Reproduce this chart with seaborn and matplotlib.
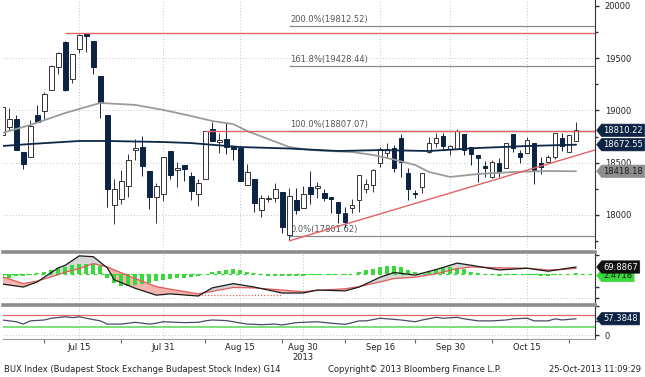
import numpy as np
import pandas as pd
import seaborn as sns
import matplotlib.pyplot as plt
from matplotlib.path import Path
from matplotlib.transforms import blended_transform_factory

sns.set_theme(style="white")
plt.rcParams['font.family'] = ['DejaVu Sans']

# ----------------------
# Data (one candle per trading day, day -1 is cut by the left edge)
# ----------------------
day = list(range(-1, 82))
open_ = [18765, 18842, 18918, 18602, 18555, 18956, 18995, 19196, 19416, 19655, 19301, 19588, 19722,
         19665, 19330, 18956, 18095, 18153, 18277, 18621, 18650, 18421, 18172, 18200, 18612, 18430,
         18478, 18373, 18200, 18344, 18822, 18698, 18727, 18660, 18641, 18287, 18344, 18047, 18153,
         18162, 18220, 17808, 18143, 18066, 18267, 18262, 18210, 18172, 18124, 18019, 18066, 18143,
         18248, 18287, 18497, 18593, 18641, 18736, 18401, 18205, 18267, 18602, 18688, 18755, 18631,
         18631, 18775, 18650, 18574, 18468, 18363, 18497, 18449, 18775, 18593, 18593, 18688, 18497,
         18507, 18555, 18736, 18602, 18708]
high = [19033, 19023, 18956, 18602, 18909, 19052, 19177, 19435, 19560, 19665, 19540, 19730, 19742,
        19665, 19330, 18956, 18344, 18430, 18583, 18727, 18755, 18421, 18306, 18555, 18612, 18507,
        18478, 18411, 18344, 18807, 18889, 18784, 18880, 18660, 18641, 18488, 18344, 18191, 18191,
        18306, 18220, 18258, 18258, 18277, 18421, 18315, 18248, 18172, 18124, 18076, 18153, 18382,
        18344, 18440, 18650, 18688, 18669, 18775, 18449, 18239, 18401, 18746, 18784, 18784, 18669,
        18822, 18775, 18650, 18574, 18516, 18526, 18545, 18688, 18775, 18621, 18746, 18688, 18555,
        18574, 18784, 18784, 18765, 18889]
low = [18765, 18813, 18621, 18440, 18555, 18889, 18918, 19196, 19349, 19190, 19263, 19550, 19559,
       19349, 18928, 18076, 17913, 18105, 18172, 18526, 18373, 18057, 17923, 18133, 18344, 18267,
       18325, 18143, 18086, 18344, 18708, 18593, 18583, 18526, 18325, 18287, 18028, 17980, 18124,
       18124, 17827, 17765, 18009, 18066, 18105, 18162, 18133, 18019, 17923, 17885, 18019, 18028,
       18210, 18220, 18459, 18545, 18411, 18363, 18143, 18162, 18210, 18593, 18650, 18621, 18574,
       18631, 18574, 18478, 18315, 18363, 18354, 18363, 18449, 18602, 18497, 18593, 18296, 18392,
       18497, 18536, 18612, 18602, 18708]
close = [19033, 18918, 18621, 18488, 18851, 18889, 19157, 19425, 19550, 19196, 19540, 19722, 19715,
         19416, 19071, 18248, 18248, 18325, 18526, 18641, 18468, 18172, 18277, 18555, 18382, 18449,
         18440, 18229, 18306, 18803, 18708, 18717, 18650, 18631, 18325, 18411, 18114, 18162, 18162,
         18248, 17885, 18181, 18047, 18200, 18200, 18272, 18162, 18153, 18019, 17932, 18095, 18382,
         18296, 18430, 18631, 18631, 18449, 18507, 18248, 18200, 18401, 18688, 18736, 18660, 18660,
         18803, 18621, 18583, 18545, 18449, 18507, 18411, 18688, 18641, 18555, 18717, 18430, 18459,
         18555, 18784, 18660, 18765, 18810.22]

# moving averages
dark_ma_day = [-1, 3, 10, 14, 22, 26, 33, 40, 47, 53, 60, 67, 74, 81]
dark_ma = [18660, 18679, 18708, 18708, 18698, 18688, 18650, 18636, 18612, 18621, 18612, 18641, 18660, 18672.55]
gray_ma_day = [-1, 3, 8, 13, 18, 22, 26, 29, 32, 34, 37, 40, 43, 49, 52, 55, 58, 60, 63, 67, 72, 77, 81]
gray_ma = [18785, 18861, 18976, 19072, 19053, 19005, 18947, 18899, 18870, 18803, 18727, 18650, 18621,
           18602, 18574, 18530, 18478, 18411, 18364, 18392, 18411, 18421, 18418.18]

# fibonacci levels + trend line (annotation anchors)
fib_pct = ["200.0%", "161.8%", "100.0%", "0.0%"]
fib_val = [19812.52, 19428.44, 18807.07, 17801.62]
fib_day = 40
high_line = 19742
high_day = 8
resist_line = 18807.07
resist_day = 28
trend_day = [40, 83.7]
trend_val = [17752, 18622]

# middle panel
macd_day = [-1, 2, 4, 7, 8, 10, 12, 14, 15, 18, 21, 23, 27, 29, 32, 35, 39, 42, 44, 48, 50, 53, 55, 58,
            61, 64, 66, 70, 74, 77, 79, 81]
macd_line = [30, 23, 35, 68, 74, 96, 94, 68, 40, 20, 4, 7, 2, 21, 31, 23, 9, 9, 16, 14, 23, 46, 57, 51,
             64, 79, 74, 63, 67, 60, 65, 69.8867]
signal_line = [47, 31, 37, 52, 58, 66, 78, 70, 63, 43, 24, 18, 7, 13, 22, 21, 16, 12, 15, 19, 24, 35, 43,
               46, 54, 66, 70, 68, 67, 63, 64, 67]
hist = [-10, -9, -5, -3, -2, 2, 6, 10, 15, 18, 21, 23, 25, 25, 20, -10, -21, -27, -27, -25, -23, -20,
        -17, -14, -12, -10, -9, -6, -3, 0, 5, 8, 11, 12, 11, 6, 2, -2, -4, -4, -4, -4, -4, -3, -2, -1,
        0, -1, 0, -1, 0, 6, 10, 12, 18, 20, 20, 18, 10, 5, 2, 6, 12, 14, 16, 14, 12, 6, 2, 0, -1, -5,
        -2, -1, 0, -1, -2, -5, -5, -2, 0, 1, 2]
hist_base = 53

# bottom panel
rsi_day = [-1, 1, 2, 3, 5, 6, 8, 9, 10, 11, 13, 14, 16, 18, 20, 21, 22, 24, 25, 27, 28, 29, 31, 32, 34,
           36, 38, 39, 41, 42, 44, 46, 48, 50, 51, 53, 54, 56, 58, 59, 61, 62, 64, 65, 67, 69, 71, 72,
           74, 75, 77, 78, 79, 81]
rsi = [53, 47, 39, 50, 53, 59, 64, 61, 64, 59, 50, 39, 39, 45, 39, 42, 47, 45, 44, 45, 50, 53, 51, 47,
       39, 37, 39, 36, 44, 45, 47, 42, 38, 50, 50, 59, 57, 53, 47, 53, 62, 59, 62, 57, 50, 50, 53, 57,
       59, 50, 50, 57, 53, 57.3848]

date_ticks = [10, 22, 33, 42, 53, 63, 74]
date_labels = ["Jul 15", "Jul 31", "Aug 15", "Aug 30\n2013", "Sep 16", "Sep 30", "Oct 15"]
minor_ticks = [5, 16, 28, 39, 48, 58, 69, 80]

FS = 6.0
NAVY = "#0d2344"
RED = "#e06464"
GRID = dict(color="#c4c4c4", lw=0.7, ls=(0, (1, 2.2)))
XLIM = (-0.9, 83.7)


def tag_shape(x0, y0, width, height, mutation_size):
    pad = 0.2 * mutation_size
    x0, y0 = x0 - pad, y0 - pad
    x1, y1 = x0 + width + 2 * pad, y0 + height + 2 * pad
    ym = (y0 + y1) / 2
    tip = (y1 - y0) * 0.4
    return Path([(x0 - tip, ym), (x0, y1), (x1, y1), (x1, y0), (x0, y0), (x0 - tip, ym)], closed=True)


def tag(ax, y, text, fc, tc):
    ax.text(1.014, y, text, transform=blended_transform_factory(ax.transAxes, ax.transData),
            ha="left", va="center", fontsize=FS, color=tc, clip_on=False, zorder=10,
            bbox=dict(boxstyle=tag_shape, fc=fc, ec=fc, lw=0.5))


def style_axis(ax):
    ax.set_xlim(*XLIM)
    ax.set_facecolor("white")
    for s in ["left", "bottom", "top"]:
        ax.spines[s].set_visible(False)
    ax.spines["right"].set_color("#333333")
    ax.spines["right"].set_linewidth(0.8)
    ax.yaxis.tick_right()
    ax.tick_params(axis="y", which="both", direction="out", color="#333333", width=1.0,
                   labelsize=FS, labelcolor="#222222", pad=4)
    ax.tick_params(axis="y", which="major", length=3)
    ax.tick_params(axis="y", which="minor", length=2)
    ax.set_xlabel("")
    ax.set_ylabel("")


fig = plt.figure(figsize=(6.45, 3.77), dpi=100)
W = 592 / 645
L = 3 / 645
ax = fig.add_axes([L, 1 - 248 / 377, W, 248 / 377])
ax2 = fig.add_axes([L, 1 - 302 / 377, W, 50 / 377])
ax3 = fig.add_axes([L, 1 - 339 / 377, W, 34.5 / 377])

# ----------------------
# Price panel
# ----------------------
df = pd.DataFrame({"day": day, "open": open_, "high": high, "low": low, "close": close})
df["up"] = df["close"] >= df["open"]
df["bottom"] = df[["open", "close"]].min(axis=1)
df["size"] = (df["close"] - df["open"]).abs().clip(lower=12)

for y in [18000, 18500, 19000, 19500]:
    ax.axhline(y, zorder=0, **GRID)
for d in date_ticks:
    if d != 42:
        ax.axvline(d, zorder=0, **GRID)

up = df[df["up"]]
dn = df[~df["up"]]
ax.vlines(up["day"], up["low"], up["high"], color="#333333", lw=0.7, zorder=3)
ax.vlines(dn["day"], dn["low"], dn["high"], color=NAVY, lw=0.7, zorder=3)
ax.bar(up["day"], up["size"], bottom=up["bottom"], width=0.66, color="white",
       edgecolor="#333333", lw=0.7, zorder=4)
ax.bar(dn["day"], dn["size"], bottom=dn["bottom"], width=0.66, color=NAVY,
       edgecolor=NAVY, lw=0.7, zorder=4)

sns.lineplot(x=gray_ma_day, y=gray_ma, ax=ax, color="#9b9b9b", lw=1.3, zorder=5)
sns.lineplot(x=dark_ma_day, y=dark_ma, ax=ax, color="#0f2747", lw=1.3, zorder=5)

for lab, val in zip(fib_pct, fib_val):
    ax.hlines(val, fib_day, XLIM[1], color="#8a8a8a", lw=0.9, zorder=2)
    ax.text(fib_day + 0.15, val + 18, f"{lab}({val:.2f})", fontsize=FS, color="#555555",
            ha="left", va="bottom", zorder=2)
ax.hlines(high_line, high_day, XLIM[1], color=RED, lw=1.0, zorder=6)
ax.hlines(resist_line, resist_day, XLIM[1], color=RED, lw=1.0, zorder=6)
ax.plot(trend_day, trend_val, color=RED, lw=1.0, zorder=6)

ax.set_ylim(17684, 20057)
ax.set_yticks([18000, 18500, 19000, 19500, 20000])
ax.set_yticks(np.arange(17750, 20001, 250), minor=True)
ax.set_xticks([])
style_axis(ax)

tag(ax, 18418.18, "18418.18", "#8e8e8e", "#1a1a1a")
tag(ax, 18672.55, "18672.55", NAVY, "white")
tag(ax, 18810.22, "18810.22", NAVY, "white")

# ----------------------
# Middle indicator panel
# ----------------------
macd = np.array(macd_line)
sig = np.array(signal_line)
for d in date_ticks:
    ax2.axvline(d, zorder=0, **GRID)
ax2.axhline(-2, zorder=0, **GRID)
ax2.fill_between(macd_day, macd, sig, where=macd >= sig, interpolate=True, color="#d6d6d6", lw=0, zorder=1)
ax2.fill_between(macd_day, macd, sig, where=macd < sig, interpolate=True, color="#f5b4ae", lw=0, zorder=1)
ax2.bar(day, hist, bottom=hist_base, width=0.6, color="#3bd83b", lw=0, zorder=2)
ax2.axhline(hist_base, color="#3bd83b", lw=0.9, ls=(0, (3, 3)), zorder=2)
sns.lineplot(x=macd_day, y=signal_line, ax=ax2, color="#e05a5a", lw=0.9, zorder=3)
sns.lineplot(x=macd_day, y=macd_line, ax=ax2, color="#1a1a1a", lw=0.9, zorder=4)
ax2.plot([27, 39], [4.4, 4.4], color=RED, lw=0.9, ls=(0, (1, 1.5)), zorder=3)
ax2.set_ylim(-12, 105)
ax2.set_yticks([-2, 23, 98])
ax2.set_yticklabels([])
ax2.set_xticks([])
style_axis(ax2)
ax2.spines["top"].set_visible(True)
ax2.spines["top"].set_color("#8c8c8c")
ax2.spines["top"].set_linewidth(2.6)
tag(ax2, 50, "2.4718", "#3bd83b", "#1a1a1a")
tag(ax2, 69.8867, "69.8867", "#111111", "white")

# ----------------------
# Bottom indicator panel
# ----------------------
for d in date_ticks:
    ax3.axvline(d, zorder=0, **GRID)
ax3.axhline(0, zorder=0, **GRID)
ax3.axhline(70, color=RED, lw=0.9, zorder=1)
ax3.axhline(30, color="#6fdc6f", lw=1.3, zorder=1)
sns.lineplot(x=rsi_day, y=rsi, ax=ax3, color="#4a4a68", lw=0.9, zorder=3)
ax3.set_ylim(-12, 106)
ax3.set_yticks([0, 50, 100])
ax3.set_yticklabels(["0", "", ""])
style_axis(ax3)
ax3.spines["top"].set_visible(True)
ax3.spines["top"].set_color("#8c8c8c")
ax3.spines["top"].set_linewidth(2.6)
ax3.spines["bottom"].set_visible(True)
ax3.spines["bottom"].set_color("#9a9a9a")
ax3.spines["bottom"].set_linewidth(0.8)
ax3.set_xticks(date_ticks)
ax3.set_xticklabels(date_labels, fontsize=FS, color="#222222", linespacing=1.15)
ax3.set_xticks(minor_ticks, minor=True)
ax3.tick_params(axis="x", which="major", length=0, pad=3)
ax3.tick_params(axis="x", which="minor", bottom=True, length=3, direction="out", color="#666666", width=0.8)
tag(ax3, 57.3848, "57.3848", NAVY, "white")

# footer
yb = 1 - 370 / 377
fig.text(4 / 645, yb, "BUX Index (Budapest Stock Exchange Budapest Stock Index) G14", fontsize=FS,
         color="#222222", ha="left", va="center")
fig.text(328 / 645, yb, "Copyright\u00a9 2013 Bloomberg Finance L.P.", fontsize=FS,
         color="#222222", ha="left", va="center")
fig.text(641 / 645, yb, "25-Oct-2013 11:09:29", fontsize=FS, color="#222222", ha="right", va="center")

fig.savefig("out.png", dpi=100, facecolor="white")
